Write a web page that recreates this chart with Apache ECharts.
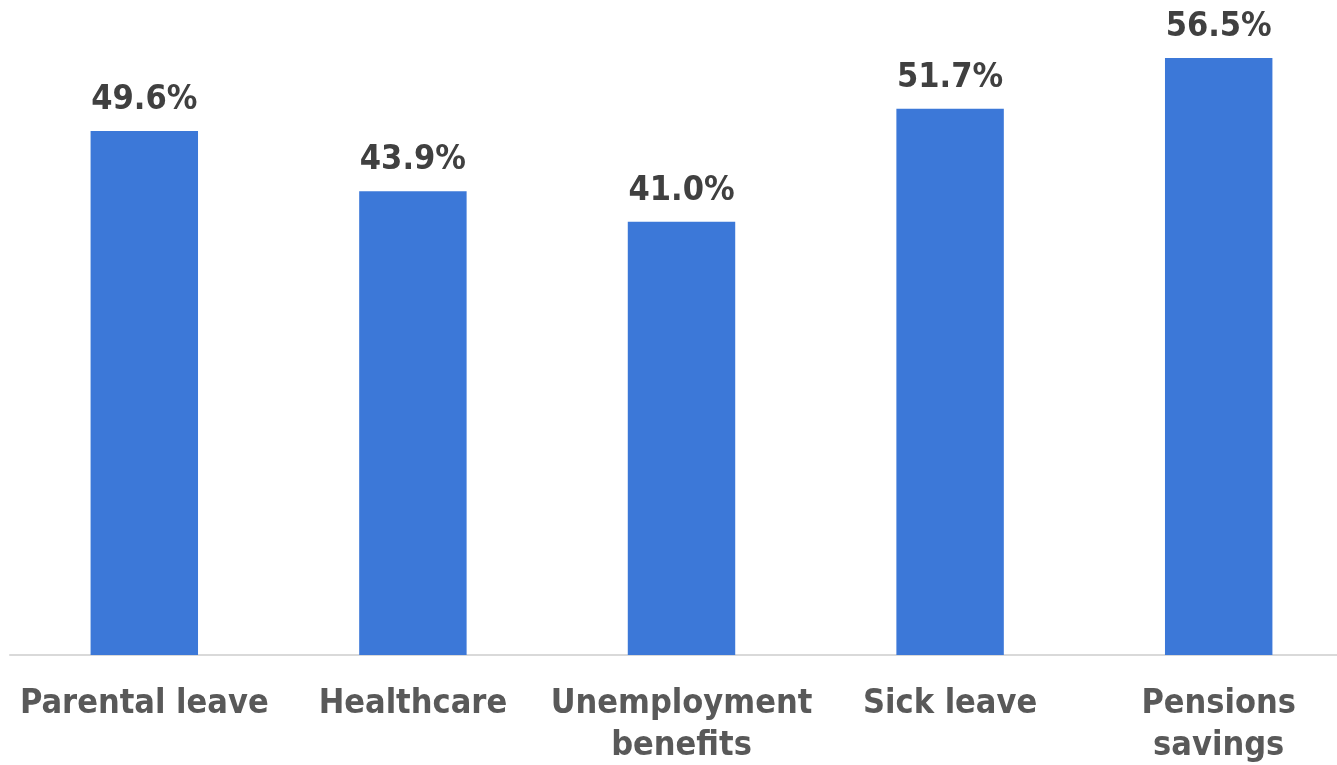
<!DOCTYPE html>
<html>
<head>
<meta charset="utf-8">
<script src="https://cdn.jsdelivr.net/npm/echarts@6/dist/echarts.min.js"></script>
<style>
  html, body { margin: 0; padding: 0; background: #ffffff; }
  #chart { width: 1337px; height: 765px; }
</style>
</head>
<body>
<div id="chart"></div>
<script>
// Share of respondents per benefit (%)
const categories = ['Parental leave', 'Healthcare', 'Unemployment\nbenefits', 'Sick leave', 'Pensions\nsavings'];
const values = [49.6, 43.9, 41.0, 51.7, 56.5];

const FONT = '"DejaVu Sans Condensed", "DejaVu Sans", sans-serif';

const chart = echarts.init(document.getElementById('chart'), null, { renderer: 'canvas' });

chart.setOption({
  backgroundColor: '#ffffff',
  animation: false,
  // plot area runs slightly past the right edge; keep it exactly where it is put
  grid: { left: 10, right: -16, top: 0, bottom: 110, containLabel: false, outerBoundsMode: 'none' },
  xAxis: {
    type: 'category',
    data: categories,
    axisLine: { show: true, lineStyle: { color: '#d9d9d9', width: 2 } },
    axisTick: { show: false },
    axisLabel: {
      interval: 0,
      margin: 28,
      color: '#595959',
      fontFamily: FONT,
      fontWeight: 'bold',
      fontSize: 34,
      lineHeight: 42
    }
  },
  yAxis: { type: 'value', min: 0, max: 62, show: false, splitLine: { show: false } },
  series: [{
    type: 'bar',
    data: values,
    barWidth: '40%',
    itemStyle: { color: '#3c78d8' },
    label: {
      show: true,
      position: 'top',
      distance: 14,
      color: '#404040',
      fontFamily: FONT,
      fontWeight: 'bold',
      fontSize: 34,
      formatter: p => p.value.toFixed(1) + '%'
    }
  }]
});
</script>
</body>
</html>
